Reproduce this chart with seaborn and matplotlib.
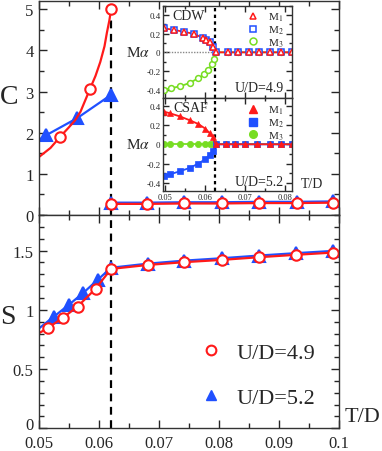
import numpy as np
import pandas as pd
import matplotlib
matplotlib.use("Agg")
import matplotlib.pyplot as plt
from matplotlib.ticker import MultipleLocator
from matplotlib.lines import Line2D
from matplotlib.transforms import ScaledTranslation
import seaborn as sns

sns.set_style("ticks")
plt.rcParams['font.family'] = ['Liberation Serif', 'DejaVu Serif']
plt.rcParams['mathtext.fontset'] = 'stix'

RED = '#ff1a1a'
BLUE = '#2050ff'
GREEN = '#77dd22'

T_c = 0.0621

# ---- specific heat C ----
# U/D=4.9 below Tc (points + fitted curve)
T_C49_lo = [0.0536, 0.0586, 0.0621]
C49_lo = [1.90, 3.07, 5.00]
T_C49_fit = [0.0500, 0.0520, 0.0536, 0.0550, 0.0561, 0.0570, 0.0586, 0.0595, 0.0603, 0.0610, 0.0614, 0.0618, 0.0621]
C49_fit = [1.40, 1.63, 1.90, 2.12, 2.30, 2.51, 3.07, 3.38, 3.72, 4.10, 4.43, 4.72, 5.00]
# U/D=5.2 below Tc
T_C52_lo = [0.0500, 0.0513, 0.0564, 0.0621]
C52_lo = [1.82, 1.94, 2.35, 2.92]
# above Tc
T_hi = [0.0621, 0.0680, 0.0743, 0.0805, 0.0868, 0.0930, 0.0991]
C49_hi = [0.27, 0.27, 0.28, 0.28, 0.29, 0.29, 0.30]
C52_hi = [0.30, 0.30, 0.31, 0.31, 0.32, 0.32, 0.33]

# ---- entropy S ----
T_S49 = [0.0500, 0.0515, 0.0540, 0.0565, 0.0595, 0.0621, 0.0683, 0.0743, 0.0805, 0.0868, 0.0929, 0.0991]
S49 = [0.80, 0.845, 0.93, 1.027, 1.177, 1.345, 1.379, 1.402, 1.421, 1.444, 1.464, 1.483]
T_S52 = [0.0500, 0.0525, 0.0550, 0.0574, 0.0599, 0.0621, 0.0683, 0.0743, 0.0805, 0.0868, 0.0929, 0.0991]
S52 = [0.84, 0.94, 1.04, 1.14, 1.255, 1.355, 1.39, 1.415, 1.435, 1.458, 1.478, 1.497]

# ---- inset: order parameters ----
T_cdw = [0.0496, 0.0521, 0.0546, 0.0571, 0.0594, 0.0603, 0.0611, 0.0619, 0.0628,
         0.0657, 0.0683, 0.0710, 0.0736, 0.0763, 0.0789, 0.0817]
M1_cdw = [0.257, 0.242, 0.220, 0.199, 0.156, 0.135, 0.107, 0.060, 0.0,
          0, 0, 0, 0, 0, 0, 0]
T_cdw3 = [0.0496, 0.0514, 0.0538, 0.0561, 0.0583, 0.0598, 0.0608, 0.0617, 0.0623, 0.0628,
          0.0657, 0.0683, 0.0710, 0.0736, 0.0763, 0.0789, 0.0817]
M3_cdw = [-0.40, -0.385, -0.364, -0.328, -0.278, -0.235, -0.186, -0.128, -0.072, 0.0,
          0, 0, 0, 0, 0, 0, 0]
T_csaf = [0.0496, 0.0513, 0.0536, 0.0561, 0.0583, 0.0600, 0.0611, 0.0619, 0.0626,
          0.0652, 0.0676, 0.0700, 0.0730, 0.0763, 0.0789, 0.0817]
M1_csaf = [0.34, 0.32, 0.29, 0.25, 0.21, 0.163, 0.118, 0.076, 0.0,
           0, 0, 0, 0, 0, 0, 0]
M2_csaf = [-0.33, -0.31, -0.28, -0.245, -0.20, -0.155, -0.11, -0.065, 0.0,
           0, 0, 0, 0, 0, 0, 0]
M3_csaf = [0.0] * len(T_csaf)


def line(ax, x, y, color, lw=1.6, **kw):
    sns.lineplot(x=x, y=y, ax=ax, color=color, lw=lw, sort=False,
                 estimator=None, legend=False, **kw)


def marks(ax, x, y, color, marker, ms, filled=False, mew=1.5):
    sns.lineplot(x=x, y=y, ax=ax, color=color, ls='none', marker=marker, ms=ms,
                 mfc=color if filled else 'white', mec=color, mew=mew,
                 sort=False, estimator=None, legend=False)


def style_ax(ax, major_len=6, minor_len=3.5):
    ax.tick_params(which='both', direction='in', top=True, right=True, width=1.0)
    ax.tick_params(which='major', length=major_len)
    ax.tick_params(which='minor', length=minor_len)
    for s in ax.spines.values():
        s.set_linewidth(1.0)
        s.set_color('#333333')
    ax.set_xlabel('')
    ax.set_ylabel('')


W, H = 382, 452
fig = plt.figure(figsize=(W / 100, H / 100), dpi=100)


def px_axes(x0, y0, x1, y1):
    return fig.add_axes([x0 / W, 1 - y1 / H, (x1 - x0) / W, (y1 - y0) / H])


ax_c = px_axes(38.5, 2, 338.5, 216)
ax_s = px_axes(38.5, 216, 338.5, 429.3)

# --- C panel ---
line(ax_c, T_C52_lo, C52_lo, BLUE)
marks(ax_c, T_C52_lo[1:], C52_lo[1:], BLUE, '^', 8, filled=True)
line(ax_c, T_hi, C52_hi, BLUE)
marks(ax_c, T_hi, C52_hi, BLUE, '^', 8, filled=True)
line(ax_c, T_C49_fit, C49_fit, RED)
marks(ax_c, T_C49_lo, C49_lo, RED, 'o', 7.5)
line(ax_c, T_hi, C49_hi, RED)
marks(ax_c, T_hi, C49_hi, RED, 'o', 7.5)
ax_c.axvline(T_c, color='black', ls=(0, (3.5, 2.5)), lw=1.6, zorder=1)
ax_c.set_xlim(0.05, 0.1)
ax_c.set_ylim(0, 5.2)
ax_c.xaxis.set_major_locator(MultipleLocator(0.01))
ax_c.xaxis.set_minor_locator(MultipleLocator(0.005))
ax_c.yaxis.set_major_locator(MultipleLocator(1))
ax_c.yaxis.set_minor_locator(MultipleLocator(0.5))
ax_c.tick_params(labelbottom=False, labelsize=12)
style_ax(ax_c)

# --- S panel ---
line(ax_s, T_S52, S52, BLUE)
marks(ax_s, T_S52[1:], S52[1:], BLUE, '^', 8, filled=True)
line(ax_s, T_S49, S49, RED)
marks(ax_s, T_S49[1:], S49[1:], RED, 'o', 7.5)
ax_s.axvline(T_c, color='black', ls=(0, (3.5, 2.5)), lw=1.6, zorder=1)
ax_s.set_xlim(0.05, 0.1)
ax_s.set_ylim(0, 1.8)
ax_s.xaxis.set_major_locator(MultipleLocator(0.01))
ax_s.xaxis.set_minor_locator(MultipleLocator(0.005))
ax_s.yaxis.set_major_locator(MultipleLocator(0.5))
ax_s.yaxis.set_minor_locator(MultipleLocator(0.1))
ax_s.set_xticks([0.05, 0.06, 0.07, 0.08, 0.09, 0.1])
ax_s.set_xticklabels(['0.05', '0.06', '0.07', '0.08', '0.09', '0.1'])
ax_s.set_yticks([0, 0.5, 1, 1.5])
ax_s.set_yticklabels(['0', '0.5', '1', '1.5'])
ax_s.tick_params(labelsize=12)
ax_s.tick_params(axis='x', pad=4.5)
style_ax(ax_s)
# the "0" of S sits a little above the axis corner, as in the original
lab0 = ax_s.get_yticklabels()[0]
lab0.set_transform(lab0.get_transform() + ScaledTranslation(0, 4 / 72, fig.dpi_scale_trans))

handles = [Line2D([], [], ls='none', marker='o', ms=7, mfc='white', mec=RED, mew=1.5),
           Line2D([], [], ls='none', marker='^', ms=7.5, mfc=BLUE, mec=BLUE)]
ax_s.legend(handles, ['U/D=4.9', 'U/D=5.2'], loc='center left',
            bbox_to_anchor=(0.465, 0.25), frameon=False, fontsize=16,
            labelspacing=1.1, handletextpad=0.55, handlelength=1.2)

fig.text(9 / W, 1 - 98 / H, 'C', fontsize=20, ha='center', va='center')
fig.text(8 / W, 1 - 317 / H, 'S', fontsize=20, ha='center', va='center')
fig.text(362 / W, 1 - 418 / H, 'T/D', fontsize=16, ha='center', va='center')

# --- inset ---
ax_i1 = px_axes(163.3, 6.7, 291.7, 99)
ax_i2 = px_axes(163.3, 99, 291.7, 191.6)

ax_i1.axhline(0, xmax=(T_c - 0.0495) / (0.0817 - 0.0495), color='#888888',
              ls=(0, (1, 1)), lw=1.0)
line(ax_i1, T_cdw3, M3_cdw, GREEN, lw=1.3)
marks(ax_i1, T_cdw3, M3_cdw, GREEN, 'o', 4.2, mew=1.1)
line(ax_i1, T_cdw, M1_cdw, RED, lw=1.3)
marks(ax_i1, T_cdw, M1_cdw, BLUE, 's', 4.2, mew=1.1)
marks(ax_i1, T_cdw, M1_cdw, RED, '^', 4.2, mew=1.1)

line(ax_i2, T_csaf, M3_csaf, GREEN, lw=1.3)
marks(ax_i2, T_csaf, M3_csaf, GREEN, 'o', 4.5, filled=True, mew=0.5)
line(ax_i2, T_csaf, M2_csaf, BLUE, lw=1.3)
marks(ax_i2, T_csaf, M2_csaf, BLUE, 's', 4.5, filled=True, mew=0.5)
line(ax_i2, T_csaf, M1_csaf, RED, lw=1.3)
marks(ax_i2, T_csaf, M1_csaf, RED, '^', 4.5, filled=True, mew=0.5)

for ax, lims in ((ax_i1, (-0.49, 0.5)), (ax_i2, (-0.48, 0.48))):
    ax.axvline(0.0625, color='black', ls=(0, (1.5, 1.5)), lw=1.6, zorder=1)
    ax.set_xlim(0.0495, 0.0817)
    ax.set_ylim(*lims)
    ax.xaxis.set_major_locator(MultipleLocator(0.01))
    ax.xaxis.set_minor_locator(MultipleLocator(0.005))
    ax.set_yticks([-0.4, -0.2, 0, 0.2, 0.4])
    ax.set_yticklabels(['-0.4', '-0.2', '0', '0.2', '0.4'])
    ax.yaxis.set_minor_locator(MultipleLocator(0.1))
    ax.tick_params(labelsize=6.5, pad=2)
    style_ax(ax, major_len=4, minor_len=2.5)
    ax.text(-0.2, 0.5, 'M$\\alpha$', transform=ax.transAxes, fontsize=11,
            ha='center', va='center')

ax_i1.tick_params(labelbottom=False)
ax_i2.set_xticks([0.05, 0.06, 0.07, 0.08])
ax_i2.set_xticklabels(['0.05', '0.06', '0.07', '0.08'])
ax_i2.tick_params(axis='x', labelsize=6, pad=1.5)

ax_i1.text(0.07, 0.89, 'CDW', transform=ax_i1.transAxes, fontsize=10, ha='left', va='center')
ax_i2.text(0.075, 0.90, 'CSAF', transform=ax_i2.transAxes, fontsize=10, ha='left', va='center')
ax_i1.text(0.75, 0.11, 'U/D=4.9', transform=ax_i1.transAxes, fontsize=10, ha='center', va='center')
ax_i2.text(0.745, 0.10, 'U/D=5.2', transform=ax_i2.transAxes, fontsize=10, ha='center', va='center')
ax_i2.text(1.16, 0.08, 'T/D', transform=ax_i2.transAxes, fontsize=10, ha='center', va='center')

labels_m = ['M$_1$', 'M$_2$', 'M$_3$']
h_open = [Line2D([], [], ls='none', marker='^', ms=5, mfc='white', mec=RED, mew=1.1),
          Line2D([], [], ls='none', marker='s', ms=5, mfc='white', mec=BLUE, mew=1.1),
          Line2D([], [], ls='none', marker='o', ms=5, mfc='white', mec=GREEN, mew=1.1)]
h_fill = [Line2D([], [], ls='none', marker='^', ms=6, mfc=RED, mec=RED),
          Line2D([], [], ls='none', marker='s', ms=5.5, mfc=BLUE, mec=BLUE),
          Line2D([], [], ls='none', marker='o', ms=5.5, mfc=GREEN, mec=GREEN)]
ax_i1.legend(h_open, labels_m, loc='upper right', bbox_to_anchor=(1.0, 1.03),
             frameon=False, fontsize=8, labelspacing=0.02, handletextpad=0.9,
             handlelength=1.0, borderaxespad=0.3)
ax_i2.legend(h_fill, labels_m, loc='upper right', bbox_to_anchor=(1.0, 1.02),
             frameon=False, fontsize=8, labelspacing=0.02, handletextpad=0.9,
             handlelength=1.0, borderaxespad=0.3)

fig.savefig('out.png', dpi=100)
